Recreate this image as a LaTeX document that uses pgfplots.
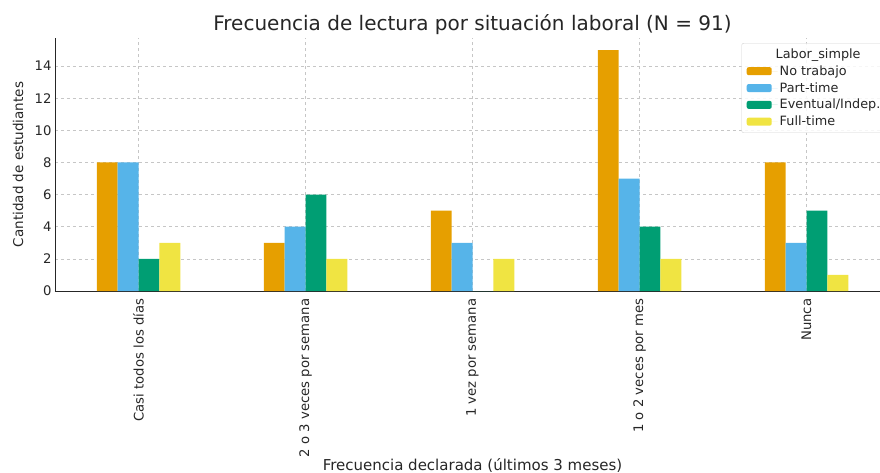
\documentclass[border=0pt]{standalone}
\usepackage{pgfplots}
\pgfplotsset{compat=1.18}
\usepackage{fontspec}
\setmainfont{DejaVu Sans}
\definecolor{cA}{HTML}{E69F00}
\definecolor{cB}{HTML}{56B4E9}
\definecolor{cC}{HTML}{009E73}
\definecolor{cD}{HTML}{F0E442}
\definecolor{txt}{HTML}{262626}
\begin{document}
\begin{tikzpicture}[x=1pt,y=1pt]
\path[use as bounding box] (0,0) rectangle (880,472);
\begin{axis}[
  at={(55pt,181pt)}, anchor=south west,
  scale only axis, width=835pt, height=253pt,
  xmin=-0.5, xmax=4.5, ymin=0, ymax=15.75,
  ybar=0pt, bar width=20.875pt,
  axis x line*=bottom, axis y line*=left,
  axis line style={txt, line width=0.8pt},
  xtick={0,1,2,3,4},
  xticklabels={Casi todos los días, 2 o 3 veces por semana, 1 vez por semana, 1 o 2 veces por mes, Nunca},
  ytick={0,2,4,6,8,10,12,14},
  /pgf/number format/assume math mode=true,
  tick style={draw=none},
  xticklabel style={rotate=90, anchor=east, font=\fontsize{13.2}{15}\selectfont, text=txt},
  yticklabel style={font=\fontsize{13.2}{15}\selectfont, text=txt},
  grid=major,
  major grid style={gray!45, dashed, line width=0.5pt},
  xlabel={Frecuencia declarada (últimos 3 meses)},
  xlabel style={at={(axis description cs:0.5,0)}, anchor=center, yshift=-174pt, font=\fontsize{15}{17}\selectfont, text=txt},
  ylabel={Cantidad de estudiantes},
  ylabel style={at={(axis description cs:-0.0443,0.5)}, anchor=center, font=\fontsize{13.5}{15}\selectfont, text=txt},
  title={Frecuencia de lectura por situación laboral (N = 91)},
  title style={at={(axis description cs:0.5,1)}, anchor=center, yshift=7pt, font=\fontsize{20}{22}\selectfont, text=txt},
  legend image code/.code={\fill[#1, fill opacity=1] (0pt,-4pt) rectangle (25pt,4pt); \path (0pt,0pt) -- (31pt,0pt);},
  legend cell align=left,
  legend style={at={(0.997,0.98)}, anchor=north east, font=\fontsize{12.8}{14}\selectfont, text=txt,
    draw=gray!35, rounded corners=2pt, fill=white, fill opacity=0.85, draw opacity=1, text opacity=1,
    row sep=1.6pt, inner xsep=5pt, inner ysep=3.5pt},
]
\addlegendimage{empty legend}
\addlegendentry{\hspace{-4pt}Labor\_simple}
\addplot[fill=cA, draw=none] coordinates {(0,8) (1,3) (2,5) (3,15) (4,8)};
\addlegendentry{No trabajo}
\addplot[fill=cB, draw=none] coordinates {(0,8) (1,4) (2,3) (3,7) (4,3)};
\addlegendentry{Part-time}
\addplot[fill=cC, draw=none] coordinates {(0,2) (1,6) (2,0) (3,4) (4,5)};
\addlegendentry{Eventual/Indep.}
\addplot[fill=cD, draw=none] coordinates {(0,3) (1,2) (2,2) (3,2) (4,1)};
\addlegendentry{Full-time}
\end{axis}
\end{tikzpicture}
\end{document}
